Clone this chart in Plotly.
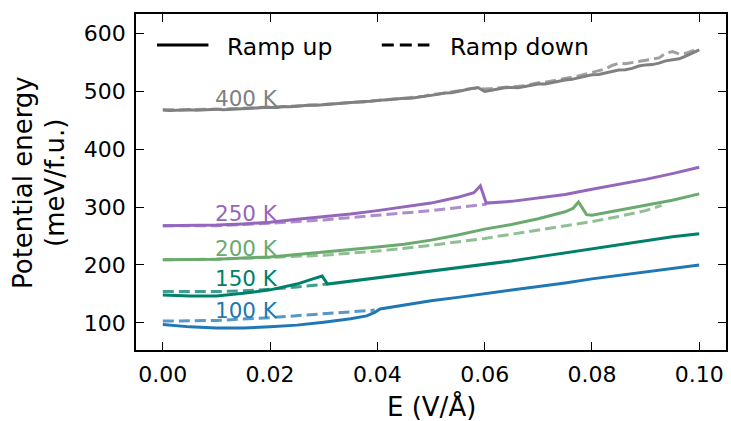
import plotly.graph_objects as go

# ---------------- data ----------------
# field grid used by the 400 K runs (V/Å)
E_400 = [0.0, 0.00125, 0.0025, 0.00375, 0.005, 0.00625, 0.0075, 0.00875,
         0.01, 0.01125, 0.0125, 0.01375, 0.015, 0.01625, 0.0175, 0.01875,
         0.02, 0.02125, 0.0225, 0.02375, 0.025, 0.02625, 0.0275, 0.02875,
         0.03, 0.03125, 0.0325, 0.03375, 0.035, 0.03625, 0.0375, 0.03875,
         0.04, 0.04125, 0.0425, 0.04375, 0.045, 0.04625, 0.0475, 0.04875,
         0.05, 0.05125, 0.0525, 0.05375, 0.055, 0.05625, 0.0575, 0.05875,
         0.06, 0.06125, 0.0625, 0.06375, 0.065, 0.06625, 0.0675, 0.06875,
         0.07, 0.07125, 0.0725, 0.07375, 0.075, 0.07625, 0.0775, 0.07875,
         0.08, 0.08125, 0.0825, 0.08375, 0.085, 0.08625, 0.0875, 0.08875,
         0.09, 0.09125, 0.0925, 0.09375, 0.095, 0.09625, 0.0975, 0.09875, 0.1]
up_400 = [468, 467, 467.5, 468.5, 468.5, 467.5, 468, 469,
          469.5, 468.5, 469, 470, 470.5, 470, 471.5, 472.5,
          472, 472.5, 474, 473.5, 474.5, 476, 476.5, 476,
          477, 478.5, 479.5, 479.5, 480.5, 482, 482.5, 483,
          484.5, 485.5, 486, 487.5, 488.5, 488.5, 490, 492,
          494, 495, 497.5, 498, 500, 503, 505, 507,
          500, 502, 504, 506.5, 507, 506.5, 508.5, 511,
          513, 513, 515.5, 518.5, 520, 521, 523.5, 527,
          529, 529.5, 532, 535.5, 537, 537.5, 540, 544,
          546, 546.5, 549, 553, 555, 556.5, 561, 567, 572]
down_400 = [468.5, 468, 467.5, 468, 469, 469, 468.5, 469.5,
            469, 469.5, 470, 470.5, 470.5, 471, 472, 471.5,
            472.5, 473, 473.5, 474.5, 475, 475, 476, 477,
            477.5, 478, 479, 480, 481, 481, 482, 483.5,
            485, 485.5, 486.5, 487, 488, 489.5, 490.5, 492,
            494.5, 495.5, 497, 499, 501, 503, 505, 505.5,
            504.5, 505, 506, 507.5, 508, 508.5, 510, 512.5,
            515, 516, 518, 520, 522, 524, 527, 530,
            533, 535, 539, 545, 549, 548, 550, 552,
            555, 556, 558, 566, 569, 565, 566, 570, 574]

E_250_up = [0.0, 0.005, 0.01, 0.015, 0.02, 0.025, 0.03, 0.035, 0.04, 0.045, 0.05,
            0.055, 0.058, 0.0592, 0.0603, 0.065, 0.07, 0.075, 0.08, 0.085, 0.09, 0.095, 0.1]
up_250 = [268, 268, 269, 271, 274, 279, 283, 288, 294, 300, 307,
          317, 325, 337, 307, 310, 316, 322, 331, 339, 348, 358, 369]
E_250_down = [0.0, 0.01, 0.02, 0.03, 0.04, 0.05, 0.0603]
down_250 = [268, 268, 272, 278, 286, 294, 305]

E_200_up = [0.0, 0.005, 0.01, 0.015, 0.02, 0.025, 0.03, 0.035, 0.04, 0.045, 0.05,
            0.055, 0.06, 0.065, 0.07, 0.075, 0.0765, 0.0775, 0.079, 0.08, 0.085,
            0.09, 0.095, 0.1]
up_200 = [209, 209, 210, 212, 214, 218, 222, 226, 231, 236, 243,
          252, 262, 270, 280, 292, 298, 309, 287, 286, 295,
          303, 312, 323]
E_200_down = [0.0, 0.01, 0.02, 0.03, 0.04, 0.05, 0.06, 0.065, 0.07, 0.075, 0.08,
              0.085, 0.09, 0.093]
down_200 = [209, 210, 213, 217, 224, 234, 246, 253, 260, 267, 275,
            284, 294, 303]

E_150_up = [0.0, 0.005, 0.01, 0.015, 0.02, 0.025, 0.028, 0.0297, 0.0307, 0.035,
            0.04, 0.045, 0.05, 0.055, 0.06, 0.065, 0.07, 0.075, 0.08, 0.085,
            0.09, 0.095, 0.1]
up_150 = [148, 146.5, 146.5, 151, 157, 167, 176, 181, 167, 172,
          178, 184, 190, 196, 201, 207, 214, 221, 228, 236,
          243, 249, 254]
E_150_down = [0.0, 0.005, 0.01, 0.015, 0.02, 0.025, 0.0307]
down_150 = [154, 153.5, 154, 155.5, 158, 162, 167]

E_100_up = [0.0, 0.005, 0.01, 0.015, 0.02, 0.025, 0.03, 0.035, 0.038, 0.0395,
            0.0405, 0.045, 0.05, 0.055, 0.06, 0.065, 0.07, 0.075, 0.08, 0.085,
            0.09, 0.095, 0.1]
up_100 = [97, 93, 91, 91, 93, 96, 101, 107, 112, 118,
          124, 131, 138, 144, 150, 156, 162, 169, 176, 182,
          188, 194, 200]
E_100_down = [0.0, 0.01, 0.02, 0.03, 0.0395]
down_100 = [103, 104, 109, 115, 122]

labels = ["100 K", "150 K", "200 K", "250 K", "400 K"]
label_y = [125, 180, 232.5, 293, 491.5]
colors = ["#1f77b4", "#00806a", "#6aaa6e", "#9467bd", "#808080"]

runs = [
    (E_100_up, up_100, E_100_down, down_100),
    (E_150_up, up_150, E_150_down, down_150),
    (E_200_up, up_200, E_200_down, down_200),
    (E_250_up, up_250, E_250_down, down_250),
    (E_400, up_400, E_400, down_400),
]
for xu, yu, xd, yd in runs:
    assert len(xu) == len(yu) and len(xd) == len(yd)

FONT = "DejaVu Sans"

# ---------------- figure ----------------
fig = go.Figure()
for (xu, yu, xd, yd), name, col in zip(runs, labels, colors):
    fig.add_trace(go.Scatter(x=xu, y=yu, mode="lines", name=f"{name} ramp up",
                             line=dict(color=col, width=3), showlegend=False))
    fig.add_trace(go.Scatter(x=xd, y=yd, mode="lines", name=f"{name} ramp down",
                             line=dict(color=col, width=3, dash="11px,5px"),
                             opacity=0.75, showlegend=False))

# temperature labels
for name, yv, col in zip(labels, label_y, colors):
    fig.add_annotation(x=0.0093, y=yv, xref="x", yref="y", text=name,
                       showarrow=False, xanchor="left", yanchor="middle", yshift=-2,
                       font=dict(family=FONT, size=21.5, color=col))

# legend drawn in axes fraction
fig.add_shape(type="line", xref="paper", yref="paper", x0=0.0356, x1=0.1228,
              y0=0.908, y1=0.908, line=dict(color="black", width=3))
fig.add_shape(type="line", xref="paper", yref="paper", x0=0.4166, x1=0.4973,
              y0=0.908, y1=0.908, line=dict(color="black", width=3, dash="12px,6px"))
fig.add_annotation(x=0.1516, y=0.908, xref="paper", yref="paper", text="Ramp up",
                   showarrow=False, xanchor="left", yanchor="middle", yshift=-2,
                   font=dict(family=FONT, size=23.5, color="black"))
fig.add_annotation(x=0.5295, y=0.908, xref="paper", yref="paper", text="Ramp down",
                   showarrow=False, xanchor="left", yanchor="middle", yshift=-2,
                   font=dict(family=FONT, size=23.5, color="black"))

# axis titles
fig.add_annotation(x=0.5, y=0, xref="paper", yref="paper", text="E (V/Å)",
                   showarrow=False, xanchor="center", yanchor="middle", yshift=-56,
                   font=dict(family=FONT, size=26, color="black"))
for txt, px in [("Potential energy", 23), ("(meV/f.u.)", 55)]:
    fig.add_annotation(x=0, y=0.5, xref="paper", yref="paper", text=txt,
                       textangle=-90, showarrow=False, xanchor="center",
                       yanchor="middle", xshift=px - 136, yshift=-1,
                       font=dict(family=FONT, size=26, color="black"))

axis_common = dict(showline=True, linecolor="black", linewidth=1.5, mirror="ticks",
                   ticks="inside", ticklen=8, tickwidth=1.3, tickcolor="black",
                   showgrid=False, zeroline=False,
                   tickfont=dict(family=FONT, size=22, color="black"))
fig.update_xaxes(range=[-0.005, 0.105], tickvals=[0, 0.02, 0.04, 0.06, 0.08, 0.1],
                 tickformat=".2f", ticklabelstandoff=4, **axis_common)
fig.update_yaxes(range=[53, 634], tickvals=[100, 200, 300, 400, 500, 600],
                 ticklabelstandoff=4, **axis_common)

fig.update_layout(width=731, height=421, margin=dict(l=136, r=3, t=14, b=71),
                  plot_bgcolor="white", paper_bgcolor="white",
                  font=dict(family=FONT))

fig.write_html("out.html")
